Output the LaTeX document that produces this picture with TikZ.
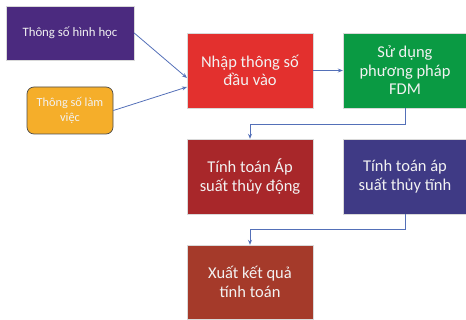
\documentclass[tikz,border=0pt]{standalone}
\usepackage{fontspec}
\setmainfont{Carlito}
\usetikzlibrary{arrows.meta}
\definecolor{cpurple}{HTML}{4B2A7F}
\definecolor{corange}{HTML}{F5AE2A}
\definecolor{cred}{HTML}{E3302E}
\definecolor{cgreen}{HTML}{0A9A43}
\definecolor{cdred}{HTML}{A8272A}
\definecolor{cindigo}{HTML}{3F3A85}
\definecolor{cbrown}{HTML}{A53A2A}
\definecolor{carrow}{HTML}{5470B8}
\definecolor{ctext}{HTML}{F2F2F2}
\begin{document}
\begin{tikzpicture}[x=1pt,y=-1pt,
  box/.style={draw=white!85!black, line width=0.4pt, text=ctext, align=center, inner sep=0pt},
  big/.style={box, minimum width=126pt, minimum height=75pt, font=\fontsize{16.5}{18.5}\selectfont},
  conn/.style={draw=carrow, line width=0.8pt, -{Stealth[length=5pt,width=4pt]}}]
\useasboundingbox (0,0) rectangle (466,320);
\node[box, fill=cpurple, minimum width=128pt, minimum height=54pt, font=\fontsize{12.8}{14}\selectfont] (A) at (70,33) {Thông số hình học};
\node[box, draw=black!70, line width=0.7pt, rounded corners=7pt, fill=corange, minimum width=86pt, minimum height=47pt, font=\fontsize{12.3}{15}\selectfont] (B) at (70,110.5) {Thông số làm\\việc};
\node[big, fill=cred] (C) at (250,70.5) {Nhập thông số\\đầu vào};
\node[big, fill=cgreen, minimum width=124pt] (D) at (405,70.5) {Sử dụng\\phương pháp\\FDM};
\node[big, fill=cdred] (E) at (250,176.5) {Tính toán Áp\\suất thủy động};
\node[big, fill=cindigo, minimum width=124pt] (F) at (405,176.5) {Tính toán áp\\suất thủy tĩnh};
\node[big, fill=cbrown, minimum height=74pt] (G) at (250,282) {Xuất kết quả\\tính toán};
\coordinate (c1) at (187,78);
\coordinate (c2) at (187,87);
\draw[conn] (A.east) -- (c1);
\draw[conn] (B.east) -- (c2);
\draw[conn] (C.east) -- (D.west);
\draw[conn] (D.south) -- ++(0,16) -| (E.north);
\draw[conn] (F.south) -- ++(0,15) -| (G.north);
\end{tikzpicture}
\end{document}
